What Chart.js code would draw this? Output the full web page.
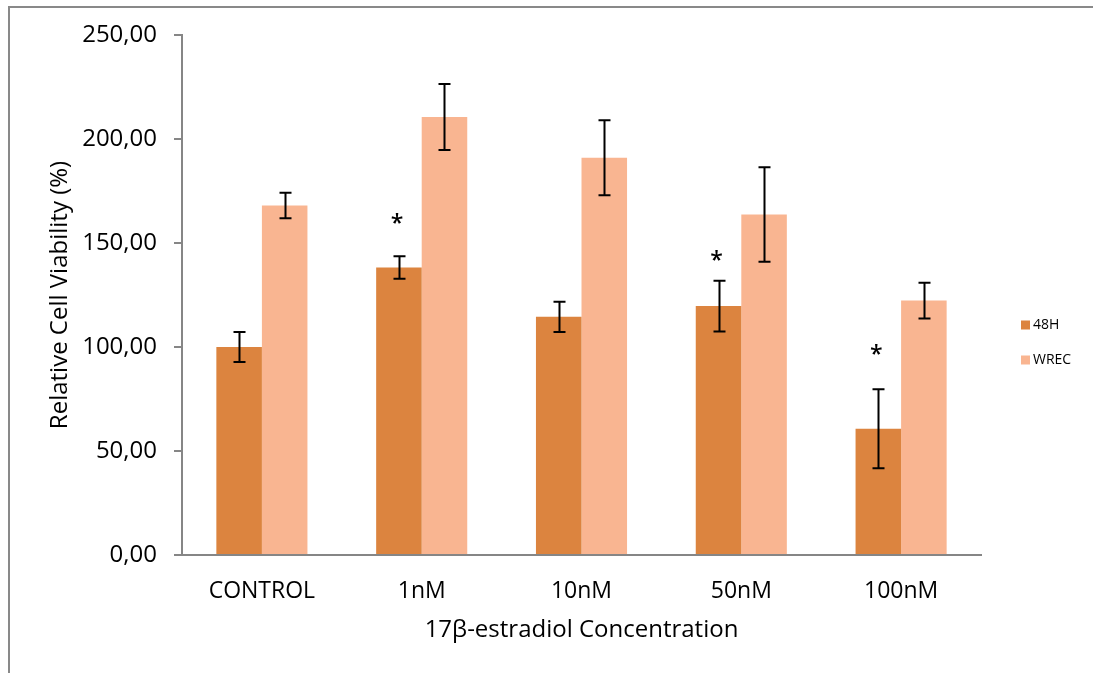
<!DOCTYPE html>
<html>
<head>
<meta charset="utf-8">
<script src="https://cdn.jsdelivr.net/npm/chart.js@4/dist/chart.umd.min.js"></script>
<style>
  body { margin: 0; background: #fff; }
  #frame { position: absolute; left: 8px; top: 6px; width: 1090px; height: 672px;
           border-top: 2px solid #898989; border-left: 2px solid #898989; }
  #chart-viability { position: absolute; left: 0; top: 0; }
</style>
</head>
<body>
<div id="frame"></div>
<canvas id="chart-viability" width="1093" height="673"></canvas>
<script>
var categories = ['CONTROL', '1nM', '10nM', '50nM', '100nM'];
var values48h = [100.0, 138.2, 114.5, 119.7, 60.7];
var errors48h = [7.2, 5.4, 7.3, 12.2, 19.0];
var valuesWrec = [168.0, 210.6, 191.0, 163.7, 122.3];
var errorsWrec = [6.1, 15.9, 18.0, 22.7, 8.6];
// level (in %) of the significance star above the 48H bar, null = none
var starLevels = [null, 161, null, 143, 98];

var fontFace = '"Open Sans", sans-serif';

var errorBars = {
    id: 'errorBars',
    afterDatasetsDraw: function (chart) {
        var ctx = chart.ctx;
        var y = chart.scales.y;
        ctx.save();
        ctx.strokeStyle = '#000';
        ctx.lineWidth = 2;
        chart.data.datasets.forEach(function (ds, i) {
            var meta = chart.getDatasetMeta(i);
            meta.data.forEach(function (bar, j) {
                var top = y.getPixelForValue(ds.data[j] + ds.errors[j]);
                var bot = y.getPixelForValue(ds.data[j] - ds.errors[j]);
                var x = Math.round(bar.x) + 0.5;
                ctx.beginPath();
                ctx.moveTo(x, top); ctx.lineTo(x, bot);
                ctx.moveTo(x - 6, top); ctx.lineTo(x + 6, top);
                ctx.moveTo(x - 6, bot); ctx.lineTo(x + 6, bot);
                ctx.stroke();
            });
        });
        // stars over the 48H bars
        var meta0 = chart.getDatasetMeta(0);
        ctx.fillStyle = '#000';
        ctx.font = '600 23px ' + fontFace;
        ctx.textAlign = 'center';
        ctx.textBaseline = 'middle';
        starLevels.forEach(function (lvl, j) {
            if (lvl === null) return;
            ctx.fillText('*', meta0.data[j].x - 2, y.getPixelForValue(lvl) + 4);
        });
        ctx.restore();
    }
};

// legend drawn to the right of the plot, like the Excel one
var sideLegend = {
    id: 'sideLegend',
    afterDraw: function (chart) {
        var ctx = chart.ctx;
        var x = chart.chartArea.right + 40;
        ctx.save();
        ctx.font = '14px ' + fontFace;
        ctx.textAlign = 'left';
        ctx.textBaseline = 'middle';
        chart.data.datasets.forEach(function (ds, i) {
            var cy = 325 + i * 35;
            ctx.fillStyle = ds.backgroundColor;
            ctx.fillRect(x, cy - 4.5, 9, 9);
            ctx.fillStyle = '#000';
            ctx.fillText(ds.label, x + 12, cy);
        });
        ctx.restore();
    }
};

var config = {
    type: 'bar',
    data: {
        labels: categories,
        datasets: [{
            label: '48H',
            data: values48h,
            errors: errors48h,
            backgroundColor: '#DC843F'
        }, {
            label: 'WREC',
            data: valuesWrec,
            errors: errorsWrec,
            backgroundColor: '#F9B591'
        }]
    },
    options: {
        responsive: false,
        animation: false,
        barPercentage: 1.0,
        categoryPercentage: 0.57,
        layout: { padding: { left: 40, top: 35, right: 112, bottom: 0 } },
        plugins: {
            tooltip: { enabled: false },
            legend: { display: false }
        },
        scales: {
            x: {
                grid: { display: false },
                border: { display: true, color: '#868686', width: 2 },
                ticks: { color: '#000', padding: 15, font: { family: fontFace, size: 23 } },
                title: {
                    display: true,
                    text: '17β-estradiol Concentration',
                    color: '#000',
                    font: { family: fontFace, size: 24 },
                    padding: { top: 10, bottom: 28 }
                },
                afterFit: function (scale) { scale.height = 118; }
            },
            y: {
                min: 0,
                max: 250,
                ticks: {
                    stepSize: 50,
                    color: '#000',
                    padding: 17,
                    font: { family: fontFace, size: 24 },
                    callback: function (v) { return v.toFixed(2).replace('.', ','); }
                },
                grid: { drawOnChartArea: false, drawTicks: true, tickLength: 8, color: '#868686', lineWidth: 2 },
                border: { display: true, color: '#868686', width: 2 },
                title: {
                    display: true,
                    text: 'Relative Cell Viability (%)',
                    color: '#000',
                    font: { family: fontFace, size: 24 },
                    padding: { top: 6, bottom: 0 }
                },
                afterFit: function (scale) { scale.width = 142; }
            }
        }
    },
    plugins: [errorBars, sideLegend]
};

window.onload = function () {
    var ctx = document.getElementById('chart-viability').getContext('2d');
    window.myBar = new Chart(ctx, config);
};
</script>
</body>
</html>
